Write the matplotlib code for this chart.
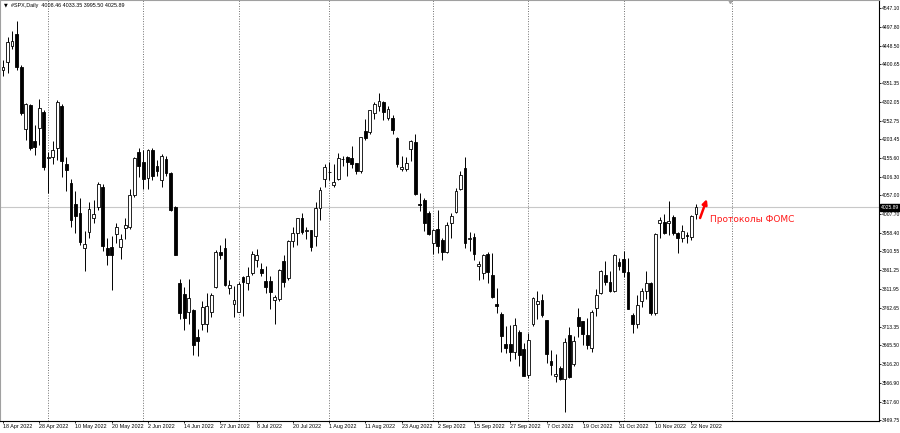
import numpy as np
import pandas as pd
import matplotlib
matplotlib.use("Agg")
import matplotlib.pyplot as plt
import matplotlib.transforms as mtransforms

# --- data (#SPX daily) ---
holidays = ["2022-05-30", "2022-06-20", "2022-07-04", "2022-09-05"]
dates = [d for d in pd.bdate_range("2022-04-18", "2022-11-23")
         if d.strftime("%Y-%m-%d") not in holidays]

opens = [4385.6, 4405, 4448, 4478, 4393.7, 4230, 4294, 4199, 4233, 4275,
         4154, 4157, 4180, 4290, 4140, 4090, 4035, 4010, 3920, 3962,
         3998, 4027, 4080, 3920, 3922, 3957, 3921, 3972, 3975, 4057,
         4170, 4145, 4102, 4177, 4135, 4097, 4152, 4116, 4027, 3829,
         3800, 3753, 3757, 3688, 3722, 3722, 3753, 3818, 3910, 3920,
         3815, 3773, 3753, 3844, 3828, 3853, 3888, 3865, 3833, 3832,
         3783, 3785, 3885, 3842, 3937, 3960, 3999, 3963, 3967, 3950,
         4024, 4100, 4118, 4085, 4100, 4153, 4157, 4156, 4141, 4122,
         4226, 4222, 4272, 4290, 4302, 4260, 4260, 4208, 4125, 4126,
         4178, 4196, 4034, 4045, 4012, 3933, 3970, 3940, 3908, 3985,
         4013, 4075, 4128, 3943, 3947, 3872, 3855, 3904, 3850, 3772,
         3748, 3668, 3668, 3647, 3700, 3655, 3587, 3722, 3772, 3784,
         3730, 3625, 3585, 3606, 3578, 3692, 3615, 3738, 3729, 3692,
         3657, 3762, 3803, 3850, 3831, 3807, 3882, 3890, 3856, 3745,
         3720, 3781, 3807, 3828, 3750, 3984, 3987, 3984, 4000, 3960,
         3946, 3953, 3948, 4008.46]
highs = [4410.3, 4470, 4488, 4512.9, 4398, 4299, 4296, 4240.7, 4308.5, 4280,
         4170, 4200, 4307, 4295, 4158, 4100, 4069, 4049, 3965, 4039,
         4046, 4091, 4088, 3946, 3950, 3985, 3956, 3999, 4075, 4158,
         4180, 4175, 4178, 4180, 4150, 4165, 4160, 4119, 4030, 3838,
         3817, 3838, 3760, 3708, 3780, 3802, 3803, 3914, 3928, 3946,
         3836, 3819, 3830, 3846, 3871, 3911, 3918, 3881, 3873, 3845,
         3796, 3864, 3902, 3940, 3974, 3999, 4012, 3975, 3967, 4040,
         4079, 4140, 4145, 4140, 4167, 4161, 4160, 4187, 4143, 4211,
         4258, 4280, 4302, 4325, 4305, 4292, 4266, 4210, 4160, 4157,
         4203, 4218, 4063, 4050, 4015, 3970, 4018, 3945, 3988, 4010,
         4077, 4122, 4157, 3962, 3959, 3885, 3905, 3910, 3907, 3815,
         3752, 3715, 3718, 3737, 3705, 3671, 3698, 3792, 3807, 3798,
         3732, 3652, 3641, 3610, 3685, 3712, 3690, 3763, 3729, 3736,
         3758, 3811, 3863, 3886, 3860, 3905, 3894, 3912, 3894, 3750,
         3796, 3814, 3859, 3830, 3958, 4001, 4009, 4043, 4005, 3962,
         3980, 3962, 4006, 4033.35]
lows = [4370.3, 4378, 4440, 4384.5, 4267.6, 4200.8, 4175, 4162.9, 4188, 4124.3,
        4062.5, 4140, 4149, 4106, 4068, 3975, 3958, 3928, 3859, 3945,
        3984, 4020, 3912, 3876, 3810, 3932, 3890, 3943, 3970, 4052,
        4105, 4074, 4074, 4098, 4109, 4080, 4107, 4017, 3900, 3734,
        3705, 3722, 3639, 3636, 3706, 3700, 3740, 3815, 3890, 3820,
        3799, 3739, 3752, 3742, 3809, 3850, 3869, 3847, 3802, 3759,
        3721, 3780, 3818, 3835, 3922, 3928, 3956, 3943, 3911, 3925,
        3993, 4079, 4096, 4080, 4098, 4135, 4107, 4129, 4112, 4115,
        4201, 4218, 4257, 4277, 4253, 4255, 4218, 4130, 4120, 4120,
        4148, 4057, 4017, 3965, 3954, 3903, 3906, 3887, 3906, 3945,
        4010, 4070, 3920, 3912, 3888, 3837, 3838, 3827, 3789, 3750,
        3647, 3645, 3623, 3630, 3610, 3584, 3580, 3715, 3735, 3739,
        3620, 3588, 3568, 3574, 3491.6, 3580, 3610, 3686, 3667, 3656,
        3647, 3742, 3799, 3824, 3804, 3805, 3863, 3844, 3759, 3698,
        3709, 3765, 3786, 3744, 3745, 3945, 3956, 3953, 3954, 3906,
        3936, 3933, 3940, 3995.50]
closes = [4391.7, 4459, 4461, 4393.7, 4271.8, 4296, 4180, 4184, 4285, 4130,
          4157, 4176, 4300, 4146, 4124, 3993, 4003, 3935, 3930, 4022,
          4008, 4087, 3924, 3902, 3901, 3974, 3942, 3979, 4058, 4155,
          4133, 4101, 4177, 4108, 4121, 4161, 4116, 4018, 3901, 3750,
          3736, 3790, 3667, 3676, 3764, 3768, 3797, 3910, 3900, 3822,
          3823, 3783, 3825, 3830, 3845, 3903, 3900, 3854, 3818, 3805,
          3792, 3862, 3831, 3937, 3960, 3999, 3962, 3967, 3921, 4024,
          4072, 4130, 4119, 4091, 4155, 4152, 4145, 4140, 4122, 4210,
          4207, 4280, 4297, 4305, 4274, 4284, 4228, 4138, 4130, 4141,
          4198, 4060, 4031, 3986, 3956, 3967, 3924, 3908, 3980, 4004,
          4068, 4110, 3933, 3946, 3903, 3877, 3902, 3856, 3792, 3768,
          3690, 3659, 3647, 3719, 3640, 3586, 3678, 3788, 3781, 3744,
          3642, 3613, 3591, 3577, 3674, 3583, 3676, 3716, 3695, 3666,
          3753, 3797, 3859, 3831, 3807, 3901, 3872, 3856, 3760, 3720,
          3771, 3807, 3828, 3749, 3956, 3993, 3958, 3990, 3960, 3945,
          3965, 3950, 4004, 4025.89]

price_ticks = [4547.10, 4497.80, 4448.50, 4400.65, 4351.35, 4302.05, 4252.75,
               4203.45, 4155.60, 4106.30, 4057.00, 4007.70, 3958.40, 3910.55,
               3861.25, 3811.95, 3762.65, 3713.35, 3665.50, 3616.20, 3566.90,
               3517.60, 3469.75]
future_grid_bar = 161
header = "#SPX,Daily  4008.46 4033.35 3995.50 4025.89"
note = "Протоколы ФОМС"

plt.rcParams['font.family'] = ['Liberation Sans', 'DejaVu Sans']
small = 3.9
ysmall = 3.6

o = np.array(opens)
h = np.array(highs)
l = np.array(lows)
c = np.array(closes)
x = np.arange(len(dates))
up = c >= o

fig = plt.figure(figsize=(9, 4.33), dpi=100)
ax = fig.add_axes([0.0, 12 / 433, 879 / 900, 421 / 433])

# month grid (plus the one MT4 draws in the empty right part)
months = [i for i in range(1, len(dates)) if dates[i].month != dates[i - 1].month]
for g in months + [future_grid_bar]:
    ax.axvline(g, color='#707070', lw=0.7, ls=(0, (1, 1.6)), zorder=1)

# current price line
ax.axhline(c[-1], color='#c8c8c8', lw=0.8, zorder=1)

# candles
ax.vlines(x, l, h, color='black', lw=0.7, zorder=2)
ax.bar(x[up], c[up] - o[up], bottom=o[up], width=0.62, facecolor='white',
       edgecolor='black', linewidth=0.6, zorder=3)
ax.bar(x[~up], o[~up] - c[~up], bottom=c[~up], width=0.62, facecolor='black',
       edgecolor='black', linewidth=0.6, zorder=3)

ax.set_xlim(-0.66, 193.4)
ax.set_ylim(3467.1, 4568.0)

for s in ['top', 'left']:
    ax.spines[s].set_color('#a0a0a0')
for s in ['right', 'bottom']:
    ax.spines[s].set_color('black')
    ax.spines[s].set_linewidth(0.8)

ax.yaxis.tick_right()
ax.set_yticks(price_ticks)
ax.set_yticklabels([f"{p:.2f}" for p in price_ticks])
ax.tick_params(axis='y', length=1.5, width=0.6, pad=0.4, labelsize=ysmall)

xt = x[::8]
ax.set_xticks(xt)
ax.set_xticklabels([f"{dates[i].day} {dates[i].strftime('%b %Y')}" for i in xt])
ax.tick_params(axis='x', length=1.5, width=0.6, pad=0.8, labelsize=small)
for t in ax.get_xticklabels():
    t.set_ha('left')

# current price tag
tr = mtransforms.blended_transform_factory(ax.transAxes, ax.transData)
ax.text(1.002, c[-1], f"{c[-1]:.2f}", transform=tr, color='white',
        fontsize=ysmall, va='center', ha='left',
        bbox=dict(boxstyle='square,pad=0.15', fc='black', ec='black'))

# header
ax.text(0.004, 0.988, "▼", transform=ax.transAxes, fontsize=3.5, va='center',
        ha='left', family='DejaVu Sans')
ax.text(0.013, 0.988, header, transform=ax.transAxes, fontsize=small,
        va='center', ha='left')
ax.plot([future_grid_bar - 0.5], [0.997], marker='v', color='#a0a0a0', ms=3,
        transform=ax.get_xaxis_transform(), clip_on=False)

# annotation
last = len(dates) - 1
ax.annotate("", xy=(last + 2.4, h[-1] + 14), xytext=(last + 0.9, c[-1] - 28),
            arrowprops=dict(arrowstyle='-|>', color='red', lw=1.8,
                            mutation_scale=7, shrinkA=0, shrinkB=0))
ax.text(last + 3.1, c[-1] - 31, note, color='#ff1a1a', fontsize=6.5,
        va='center', ha='left', family='DejaVu Sans')

fig.savefig("out.png", dpi=100)
